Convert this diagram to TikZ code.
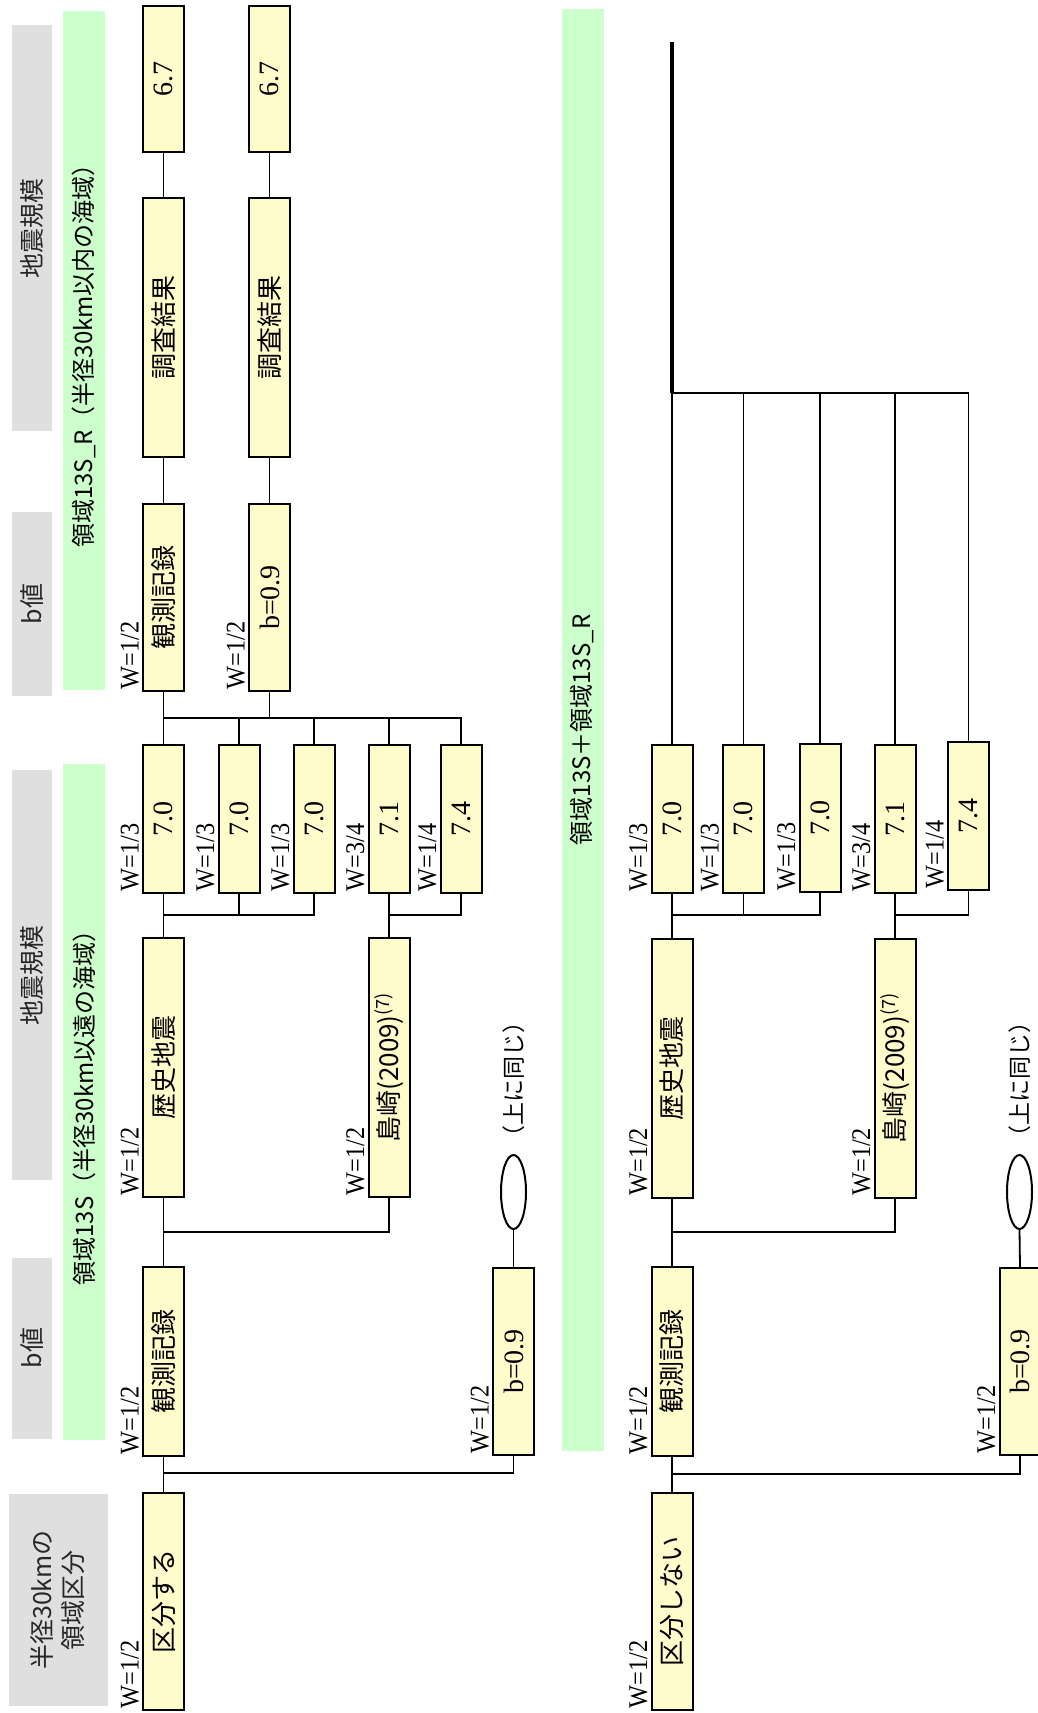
\documentclass[tikz,border=0pt]{standalone}
\usepackage{fontspec}
\setmainfont{Noto Sans CJK JP}
\newfontfamily\numfont{Liberation Serif}
\newfontfamily\wfont[FakeStretch=0.9]{Liberation Serif}
\usetikzlibrary{shapes.geometric}
\begin{document}
\begin{tikzpicture}[x=1pt, y=-1pt, line width=1.8pt,
    box/.style={draw, line width=2pt, fill=yellow!20, rotate=90, minimum height=41pt, inner sep=1pt, font=\fontsize{26}{30}\selectfont},
    num/.style={box, font=\numfont\fontsize{28}{30}\selectfont},
    head/.style={fill=gray!25, rotate=90, inner sep=0pt, text=black!85, align=center, font=\fontsize{25}{31}\selectfont},
    band/.style={fill=green!20, rotate=90, minimum height=42pt, inner sep=0pt, font=\fontsize{24}{30}\selectfont},
    wlab/.style={rotate=90, anchor=south west, inner sep=2pt, font=\wfont\fontsize{27}{28}\selectfont},
    oval/.style={draw, ellipse, line width=2pt, minimum width=25pt, minimum height=74pt, inner sep=0pt},
    same/.style={rotate=90, font=\fontsize{23}{26}\selectfont}]
  \useasboundingbox (0,0) rectangle (1038,1713);

  % column headings
  \node[head, minimum width=212pt, minimum height=99pt] (hd0) at (58,1600) {半径30kmの\\領域区分};
  \node[head, minimum width=181pt, minimum height=40pt] (hdb1) at (32,1348) {b値};
  \node[head, minimum width=410pt, minimum height=40pt] (hdm1) at (32,975) {地震規模};
  \node[head, minimum width=184pt, minimum height=40pt] (hdb2) at (32,604) {b値};
  \node[head, minimum width=406pt, minimum height=40pt] (hdm2) at (32,228) {地震規模};
  \node[band, minimum width=676pt] (rg1) at (84,1102) {領域13S（半径30km以遠の海域）};
  \node[band, minimum width=679pt] (rg2) at (84,350) {領域13S\_R（半径30km以内の海域）};
  \node[band, minimum width=1442pt] (rg3) at (582.5,730) {領域13S＋領域13S\_R};

  % 区分する
  \node[box, minimum width=217pt] (k1) at (163.5,1601.5) {区分する};
  \node[box, minimum width=189pt] (o1) at (163.5,1361.5) {観測記録};
  \node[num, minimum width=187pt] (bb1) at (513.5,1361.5) {b=0.9};
  \node[box, minimum width=259pt] (h1) at (163.5,1067.5) {歴史地震};
  \node[box, minimum width=259pt] (s1) at (389,1067.5) {島崎(2009)\textsuperscript{(7)}};
  \node[num, minimum width=148pt] (m11) at (163.5,819) {7.0};
  \node[num, minimum width=148pt] (m12) at (239,819) {7.0};
  \node[num, minimum width=148pt] (m13) at (314,819) {7.0};
  \node[num, minimum width=148pt] (m14) at (389,819) {7.1};
  \node[num, minimum width=148pt] (m15) at (461,819) {7.4};
  \node[box, minimum width=187pt] (oR) at (163.5,597.5) {観測記録};
  \node[num, minimum width=187pt] (bR) at (269.5,597.5) {b=0.9};
  \node[box, minimum width=259pt] (c1) at (163.5,327.5) {調査結果};
  \node[box, minimum width=259pt] (c2) at (269.5,327.5) {調査結果};
  \node[num, minimum width=146pt] (e1) at (163.5,79) {6.7};
  \node[num, minimum width=146pt] (e2) at (269.5,79) {6.7};
  \node[oval] (ov1) at (513.5,1192) {};
  \node[same] (sm1) at (513.5,1079) {（上に同じ）};

  \node[wlab] (wk1) at (k1.north west) {W=1/2};
  \node[wlab] (wo1) at (o1.north west) {W=1/2};
  \node[wlab] (wbb1) at (bb1.north west) {W=1/2};
  \node[wlab] (wh1) at (h1.north west) {W=1/2};
  \node[wlab] (ws1) at (s1.north west) {W=1/2};
  \node[wlab] (wm11) at (m11.north west) {W=1/3};
  \node[wlab] (wm12) at (m12.north west) {W=1/3};
  \node[wlab] (wm13) at (m13.north west) {W=1/3};
  \node[wlab] (wm14) at (m14.north west) {W=3/4};
  \node[wlab] (wm15) at (m15.north west) {W=1/4};
  \node[wlab] (woR) at (oR.north west) {W=1/2};
  \node[wlab] (wbR) at (bR.north west) {W=1/2};

  \coordinate (ja1) at (163.5,1473);
  \coordinate (ja2) at (163.5,1232);
  \coordinate (ja3) at (163.5,915);
  \coordinate (ja4) at (389,915);
  \coordinate (ja5) at (163.5,718);
  \draw (k1.east) -- (o1.west);
  \draw (ja1) -| (bb1.west);
  \draw (bb1.east) -- (ov1.south);
  \draw (o1.east) -- (h1.west);
  \draw (ja2) -| (s1.west);
  \draw (h1.east) -- (m11.west);
  \draw (ja3) -| (m12.west);
  \draw (ja3) -| (m13.west);
  \draw (s1.east) -- (m14.west);
  \draw (ja4) -| (m15.west);
  \draw (m11.east) -- (oR.west);
  \draw (ja5) -| (m15.east);
  \draw (m12.east) -- (m12.east |- ja5);
  \draw (m13.east) -- (m13.east |- ja5);
  \draw (m14.east) -- (m14.east |- ja5);
  \draw (bR.west) -- (bR.west |- ja5);
  \draw (oR.east) -- (c1.west);
  \draw (c1.east) -- (e1.west);
  \draw (bR.east) -- (c2.west);
  \draw (c2.east) -- (e2.west);

  % 区分しない
  \node[box, minimum width=217pt] (k2) at (672,1601.5) {区分しない};
  \node[box, minimum width=189pt] (o2) at (672,1361.5) {観測記録};
  \node[num, minimum width=187pt] (bb2) at (1020,1361.5) {b=0.9};
  \node[box, minimum width=259pt] (h2) at (672,1068) {歴史地震};
  \node[box, minimum width=259pt] (s2) at (895,1068) {島崎(2009)\textsuperscript{(7)}};
  \node[num, minimum width=148pt] (m21) at (672,819) {7.0};
  \node[num, minimum width=148pt] (m22) at (743.5,819) {7.0};
  \node[num, minimum width=148pt] (m23) at (820,818) {7.0};
  \node[num, minimum width=148pt] (m24) at (895,819) {7.1};
  \node[num, minimum width=148pt] (m25) at (968.5,816) {7.4};
  \node[oval] (ov2) at (1019.5,1192) {};
  \node[same] (sm2) at (1020,1079) {（上に同じ）};

  \node[wlab] (wk2) at (k2.north west) {W=1/2};
  \node[wlab] (wo2) at (o2.north west) {W=1/2};
  \node[wlab] (wbb2) at (bb2.north west) {W=1/2};
  \node[wlab] (wh2) at (h2.north west) {W=1/2};
  \node[wlab] (ws2) at (s2.north west) {W=1/2};
  \node[wlab] (wm21) at (m21.north west) {W=1/3};
  \node[wlab] (wm22) at (m22.north west) {W=1/3};
  \node[wlab] (wm23) at (m23.north west) {W=1/3};
  \node[wlab] (wm24) at (m24.north west) {W=3/4};
  \node[wlab] (wm25) at (m25.north west) {W=1/4};

  \coordinate (jb1) at (672,1474);
  \coordinate (jb2) at (672,1232);
  \coordinate (jb3) at (672,915);
  \coordinate (jb4) at (895,915);
  \coordinate (jb5) at (672,393);
  \coordinate (jtop) at (672,42);
  \draw (k2.east) -- (o2.west);
  \draw (jb1) -| (bb2.west);
  \draw (bb2.east) -- (ov2.south);
  \draw (o2.east) -- (h2.west);
  \draw (jb2) -| (s2.west);
  \draw (h2.east) -- (m21.west);
  \draw (jb3) -| (m22.west);
  \draw (jb3) -| (m23.west);
  \draw (s2.east) -- (m24.west);
  \draw (jb4) -| (m25.west);
  \draw (m21.east) -- (jb5) -| (m25.east);
  \draw (m22.east) -- (m22.east |- jb5);
  \draw (m23.east) -- (m23.east |- jb5);
  \draw (m24.east) -- (m24.east |- jb5);
  \draw[line width=3.5pt] (jb5) -- (jtop);
\end{tikzpicture}
\end{document}
